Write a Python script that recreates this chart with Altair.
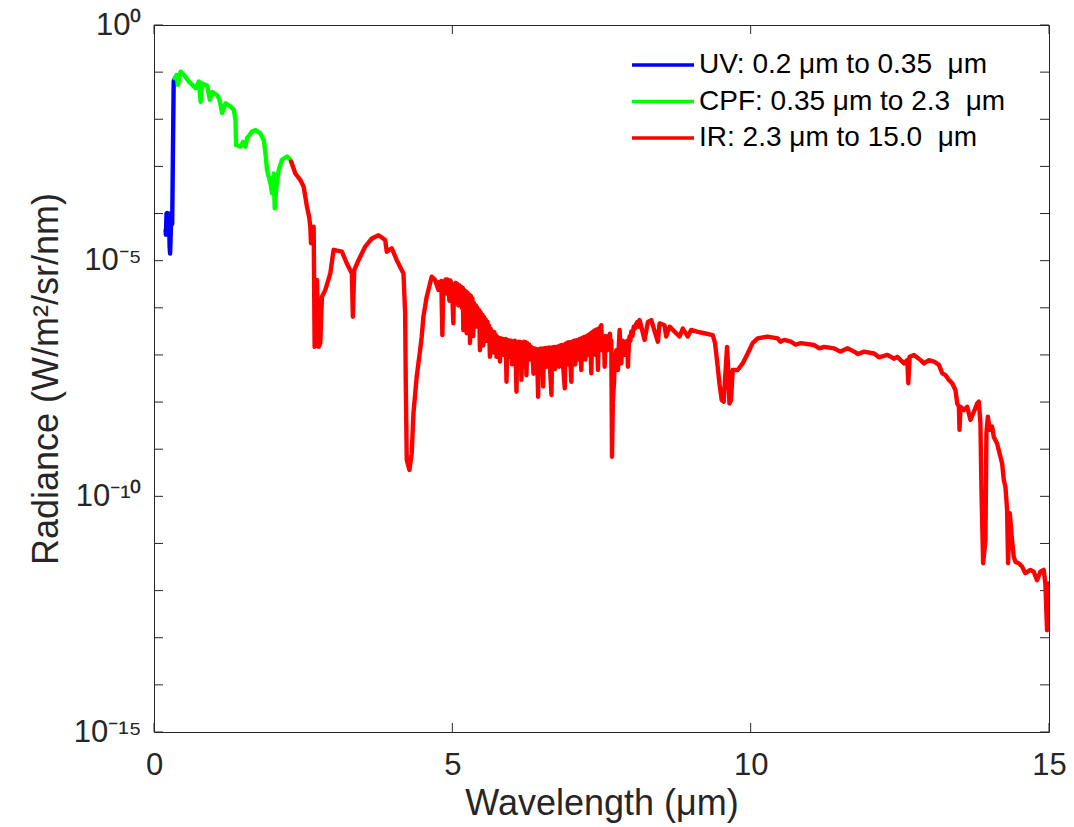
import altair as alt
import pandas as pd

# ---- data (wavelength in micrometres, radiance given as log10 of W/m^2/sr/nm) ----
uv_wl = [0.195, 0.200, 0.210, 0.225, 0.250, 0.262, 0.270, 0.285, 0.305, 0.315, 0.330, 0.350]
uv_lg = [-4.35, -4.45, -4.00, -3.99, -4.00, -4.70, -4.85, -4.25, -4.22, -3.00, -1.20, -1.13]

cpf_wl = [0.350, 0.380, 0.401, 0.446, 0.502, 0.585, 0.697, 0.753, 0.781, 0.808, 0.891, 0.936,
          0.975, 1.059, 1.099, 1.142, 1.199, 1.283, 1.338, 1.366, 1.376, 1.450, 1.493, 1.533,
          1.560, 1.644, 1.701, 1.784, 1.839, 1.868, 1.895, 1.952, 1.978, 2.007, 2.023, 2.052,
          2.090, 2.145, 2.229, 2.286, 2.300]
cpf_lg = [-1.13, -1.06, -1.27, -0.99, -1.06, -1.20, -1.34, -1.20, -1.63, -1.24, -1.29, -1.59,
          -1.42, -1.49, -1.59, -1.87, -1.66, -1.73, -1.80, -2.02, -2.55, -2.58, -2.48, -2.58,
          -2.40, -2.26, -2.23, -2.30, -2.44, -2.72, -3.08, -3.36, -3.57, -3.15, -3.89, -3.43,
          -3.08, -2.86, -2.79, -2.86, -2.90]

# IR, 2.3 - 4.7 um
ir1_wl = [2.300, 2.369, 2.453, 2.508, 2.564, 2.600, 2.620, 2.631, 2.676, 2.692, 2.731, 2.759,
          2.787, 2.814, 2.871, 2.955, 3.010, 3.149, 3.232, 3.316, 3.333, 3.356, 3.428, 3.540,
          3.651, 3.763, 3.875, 3.901, 3.985, 4.069, 4.181, 4.209, 4.219, 4.236, 4.281, 4.319,
          4.348, 4.403, 4.431, 4.460, 4.487, 4.515, 4.570, 4.654, 4.711]
ir1_lg = [-2.90, -3.15, -3.29, -3.43, -3.86, -4.07, -4.28, -4.63, -4.28, -6.83, -5.41, -6.83,
          -6.75, -5.77, -5.62, -5.27, -4.77, -4.81, -5.06, -5.27, -6.19, -5.20, -4.99, -4.70,
          -4.53, -4.46, -4.56, -4.81, -4.74, -4.99, -5.27, -6.12, -7.53, -9.23, -9.44, -9.09,
          -8.24, -7.46, -7.18, -6.90, -6.61, -6.19, -5.77, -5.34, -5.41]

# IR, noisy water-vapour band 4.7 - 8.2 um
ir2_wl = [4.766, 4.785, 4.800, 4.815, 4.833, 4.850, 4.866, 4.885, 4.900, 4.915, 4.933, 4.950,
          4.965, 4.988, 5.000, 5.017, 5.030, 5.045, 5.060, 5.072, 5.088, 5.100, 5.115, 5.130,
          5.145, 5.160, 5.175, 5.184, 5.197, 5.210, 5.225, 5.239, 5.255, 5.270, 5.285, 5.296,
          5.310, 5.323, 5.337, 5.351, 5.365, 5.380, 5.395, 5.406, 5.420, 5.435, 5.450, 5.463,
          5.476, 5.490, 5.505, 5.520, 5.535, 5.547, 5.560, 5.575, 5.590, 5.602, 5.615, 5.630,
          5.645, 5.657, 5.672, 5.690, 5.705, 5.720, 5.731, 5.741, 5.755, 5.770, 5.785, 5.798,
          5.815, 5.830, 5.845, 5.860, 5.870, 5.881, 5.895, 5.908, 5.922, 5.940, 5.955, 5.970,
          5.985, 6.000, 6.015, 6.030, 6.048, 6.062, 6.075, 6.088, 6.100, 6.115, 6.130, 6.145,
          6.159, 6.175, 6.190, 6.203, 6.216, 6.230, 6.242, 6.256, 6.270, 6.285, 6.300, 6.315,
          6.327, 6.343, 6.360, 6.375, 6.390, 6.410, 6.425, 6.438, 6.452, 6.470, 6.485, 6.500,
          6.510, 6.522, 6.537, 6.550, 6.565, 6.580, 6.595, 6.610, 6.625, 6.640, 6.661, 6.675,
          6.690, 6.705, 6.720, 6.735, 6.750, 6.773, 6.790, 6.810, 6.825, 6.840, 6.860, 6.884,
          6.897, 6.910, 6.925, 6.940, 6.955, 6.970, 6.995, 7.008, 7.020, 7.040, 7.060, 7.080,
          7.095, 7.107, 7.120, 7.135, 7.162, 7.176, 7.190, 7.210, 7.230, 7.250, 7.262, 7.274,
          7.290, 7.310, 7.329, 7.345, 7.360, 7.380, 7.400, 7.420, 7.441, 7.457, 7.470, 7.484,
          7.497, 7.510, 7.525, 7.540, 7.553, 7.565, 7.580, 7.595, 7.609, 7.625, 7.640, 7.655,
          7.664, 7.676, 7.690, 7.709, 7.725, 7.748, 7.762, 7.776, 7.790, 7.804, 7.818, 7.832,
          7.846, 7.860, 7.874, 7.888, 7.900, 7.915, 7.930, 7.943, 7.957, 7.971, 7.985, 8.000,
          8.020, 8.040, 8.055, 8.080, 8.100, 8.120, 8.139]
ir2_lg = [-5.62, -5.45, -5.50, -5.43, -6.58, -5.45, -5.55, -5.40, -5.70, -5.40, -5.45, -5.85,
          -5.42, -5.48, -5.75, -6.33, -5.50, -5.60, -5.47, -5.90, -5.50, -5.95, -5.52, -5.80,
          -5.55, -6.00, -5.58, -6.47, -5.62, -6.05, -5.65, -6.54, -5.68, -6.10, -5.72, -6.75,
          -5.75, -6.15, -5.80, -6.60, -5.90, -6.20, -5.95, -6.40, -6.00, -6.30, -6.05, -6.90,
          -6.10, -6.40, -6.15, -6.80, -6.20, -6.50, -6.25, -6.70, -6.30, -6.60, -6.38, -7.04,
          -6.45, -6.75, -6.50, -6.95, -6.52, -6.80, -6.58, -7.04, -6.62, -6.90, -6.64, -7.14,
          -6.65, -6.95, -6.66, -7.00, -6.67, -6.80, -6.66, -7.57, -6.68, -6.95, -6.70, -7.05,
          -6.70, -7.20, -6.72, -7.00, -6.70, -7.10, -7.78, -6.74, -7.00, -6.72, -7.05, -6.73,
          -7.53, -6.74, -7.00, -6.72, -6.90, -6.73, -7.43, -6.75, -7.05, -6.78, -7.10, -6.82,
          -7.00, -6.85, -7.40, -6.86, -7.10, -6.88, -7.20, -7.89, -6.88, -7.15, -6.86, -7.20,
          -6.87, -7.67, -6.86, -7.05, -6.85, -7.25, -6.85, -7.10, -6.84, -7.35, -7.85, -6.84,
          -7.10, -6.83, -7.30, -6.83, -7.10, -6.82, -7.25, -6.80, -7.15, -6.79, -7.30, -7.71,
          -6.76, -7.10, -6.74, -7.20, -6.73, -7.00, -7.57, -6.72, -7.00, -6.70, -7.20, -6.69,
          -7.05, -6.68, -7.10, -6.66, -7.32, -6.64, -6.95, -6.62, -7.10, -6.60, -6.90, -6.58,
          -7.00, -6.55, -7.39, -6.52, -6.85, -6.48, -7.00, -6.46, -7.32, -6.44, -6.80, -6.40,
          -6.37, -6.90, -6.70, -6.60, -7.25, -6.80, -6.60, -6.90, -6.68, -6.75, -6.55, -6.80,
          -6.70, -9.16, -8.00, -7.60, -7.10, -6.90, -7.10, -7.32, -6.80, -6.47, -6.90, -7.18,
          -6.80, -6.70, -7.00, -6.83, -6.90, -7.00, -6.70, -7.25, -6.80, -6.61, -6.70, -6.50,
          -6.60, -6.40, -6.45, -6.35, -6.30, -6.40, -6.26]

# IR, 8.2 - 15 um
ir3_wl = [8.222, 8.278, 8.334, 8.445, 8.473, 8.557, 8.584, 8.640, 8.807, 8.863, 8.946, 9.002,
          9.114, 9.226, 9.365, 9.403, 9.448, 9.476, 9.515, 9.548, 9.570, 9.604, 9.627, 9.644,
          9.671, 9.699, 9.783, 9.866, 9.950, 10.033, 10.117, 10.284, 10.452, 10.500, 10.563, 10.674,
          10.750, 10.842, 11.065, 11.150, 11.232, 11.399, 11.500, 11.622, 11.734, 11.800, 11.901, 12.069,
          12.150, 12.291, 12.400, 12.458, 12.570, 12.625, 12.642, 12.664, 12.737, 12.848, 12.904, 12.988,
          13.072, 13.155, 13.211, 13.266, 13.322, 13.378, 13.433, 13.462, 13.490, 13.500, 13.517, 13.573,
          13.629, 13.684, 13.740, 13.796, 13.824, 13.851, 13.868, 13.896, 13.935, 13.951, 13.975, 14.008,
          14.047, 14.075, 14.130, 14.186, 14.214, 14.242, 14.270, 14.298, 14.314, 14.343, 14.381, 14.409,
          14.437, 14.493, 14.548, 14.604, 14.688, 14.744, 14.799, 14.855, 14.911, 14.939, 14.967, 14.994]
ir3_lg = [-6.68, -6.30, -6.26, -6.72, -6.33, -6.37, -6.61, -6.40, -6.61, -6.44, -6.61, -6.47,
          -6.51, -6.54, -6.58, -6.75, -7.25, -7.60, -7.96, -7.99, -7.53, -6.83, -7.39, -8.03,
          -7.96, -7.32, -7.32, -7.18, -6.97, -6.75, -6.65, -6.61, -6.65, -6.72, -6.68, -6.72,
          -6.78, -6.75, -6.79, -6.86, -6.83, -6.86, -6.93, -6.86, -6.93, -6.98, -6.93, -6.97,
          -7.05, -7.00, -7.08, -7.04, -7.18, -7.11, -7.60, -7.04, -7.00, -7.11, -7.18, -7.11,
          -7.14, -7.21, -7.39, -7.43, -7.53, -7.60, -7.75, -8.03, -8.10, -8.59, -8.10, -8.17,
          -8.10, -8.38, -8.21, -8.03, -7.99, -8.45, -9.87, -11.42, -10.93, -8.66, -8.31, -8.59,
          -8.52, -8.74, -8.88, -9.16, -9.30, -9.65, -9.80, -10.29, -11.42, -10.36, -10.93, -11.28,
          -11.39, -11.42, -11.49, -11.63, -11.56, -11.60, -11.78, -11.60, -11.56, -11.85, -12.84, -11.85]

band_names = ["UV: 0.2 \u03bcm to 0.35\u00a0\u00a0\u03bcm",
              "CPF: 0.35 \u03bcm to 2.3\u00a0\u00a0\u03bcm",
              "IR: 2.3 \u03bcm to 15.0\u00a0\u00a0\u03bcm"]
band_colors = ["#0000ff", "#00ff00", "#ff0000"]

x_tick_values = [0, 5, 10, 15]
y_tick_exponents = list(range(0, -16, -1))
y_label_values = [1.0, 1e-5, 1e-10, 1e-15]

# ---- build table ----
ir_wl = ir1_wl + ir2_wl + ir3_wl
ir_lg = ir1_lg + ir2_lg + ir3_lg
assert len(ir_wl) == len(ir_lg) and len(uv_wl) == len(uv_lg) and len(cpf_wl) == len(cpf_lg)

rows = []
for name, wls, lgs in zip(band_names, [uv_wl, cpf_wl, ir_wl], [uv_lg, cpf_lg, ir_lg]):
    for i, (w, l) in enumerate(zip(wls, lgs)):
        rows.append({"band": name, "wl": w, "rad": 10.0 ** l, "idx": i})
df = pd.DataFrame(rows)

W, H = 895, 707
FONT = "Liberation Sans"
TICK = 9

xscale = alt.Scale(domain=[0, 15], nice=False, zero=False)
yscale = alt.Scale(type="log", domain=[1e-15, 1], nice=False)
cscale = alt.Scale(domain=band_names, range=band_colors)

xaxis = alt.Axis(values=x_tick_values, format="d", tickSize=0, domain=False, grid=False,
                 labelFlush=False, labelOverlap=False,
                 labelFontSize=31, labelPadding=18, labelFont=FONT, labelColor="#262626",
                 title="Wavelength (\u03bcm)", titleFontSize=36, titleFont=FONT,
                 titleFontWeight="normal", titleColor="#262626",
                 titleBaseline="alphabetic", titleY=82)

lines = alt.Chart(df).mark_line(strokeWidth=4.4, strokeJoin="round", strokeCap="round", clip=True).encode(
    x=alt.X("wl:Q", scale=xscale, axis=xaxis),
    y=alt.Y("rad:Q", scale=yscale,
            axis=alt.Axis(values=y_label_values, tickSize=0, domain=False, grid=False,
                          labelFlush=False, labelOverlap=False,
                          labelExpr="'10' + (round(log(datum.value)/LN10) == 0 ? '\u2070' : round(log(datum.value)/LN10) == -5 ? '\u207b\u2075' : round(log(datum.value)/LN10) == -10 ? '\u207b\u00b9\u2070' : '\u207b\u00b9\u2075')",
                          labelFontSize=31, labelPadding=13, labelFont=FONT, labelColor="#262626",
                          title="Radiance (W/m\u00b2/sr/nm)", titleFontSize=36, titleFont=FONT,
                          titleFontWeight="normal", titleColor="#262626",
                          titleAngle=-90, titleAlign="center", titleBaseline="alphabetic",
                          titleX=-97, titleY=H / 2)),
    color=alt.Color("band:N", scale=cscale, legend=None),
    order="idx:Q",
)

# ---- legend (top right, no frame) ----
legdf = pd.DataFrame({"band": band_names, "row": [0, 1, 2]})
leg_y = alt.Y("row:Q", scale=alt.Scale(domain=[0, 2], range=[40, 113]), axis=None)
leg_lines = alt.Chart(legdf).mark_rule(strokeWidth=3.5).encode(
    x=alt.value(478), x2=alt.value(540), y=leg_y,
    color=alt.Color("band:N", scale=cscale, legend=None))
leg_text = alt.Chart(legdf).mark_text(align="left", baseline="middle", font=FONT,
                                      fontSize=28, color="#000000").encode(
    x=alt.value(545), y=leg_y, text="band:N")

# ---- inward ticks on all four sides (MATLAB box style) ----
xt = pd.DataFrame({"v": x_tick_values})
yt = pd.DataFrame({"v": [10.0 ** e for e in y_tick_exponents]})
tick_style = dict(color="#262626", strokeWidth=1)

xb = alt.Chart(xt).mark_rule(**tick_style).encode(
    x=alt.X("v:Q", scale=xscale, axis=xaxis), y=alt.value(H), y2=alt.value(H - TICK))
xtop = alt.Chart(xt).mark_rule(**tick_style).encode(
    x=alt.X("v:Q", scale=xscale, axis=xaxis), y=alt.value(0), y2=alt.value(TICK))
yl = alt.Chart(yt).mark_rule(**tick_style).encode(
    y=alt.Y("v:Q", scale=yscale, axis=None), x=alt.value(0), x2=alt.value(TICK))
yr = alt.Chart(yt).mark_rule(**tick_style).encode(
    y=alt.Y("v:Q", scale=yscale, axis=None), x=alt.value(W), x2=alt.value(W - TICK))

chart = alt.layer(xb, xtop, yl, yr, lines, leg_lines, leg_text).resolve_scale(
    y="independent"
).properties(
    width=W, height=H,
    autosize=alt.AutoSizeParams(type="none"),
    padding={"left": 146, "top": 17, "right": 17, "bottom": 93},
    background="white",
).configure_view(stroke="#262626", strokeWidth=1)

chart.save("out.html", embed_options={"renderer": "svg", "actions": False})
